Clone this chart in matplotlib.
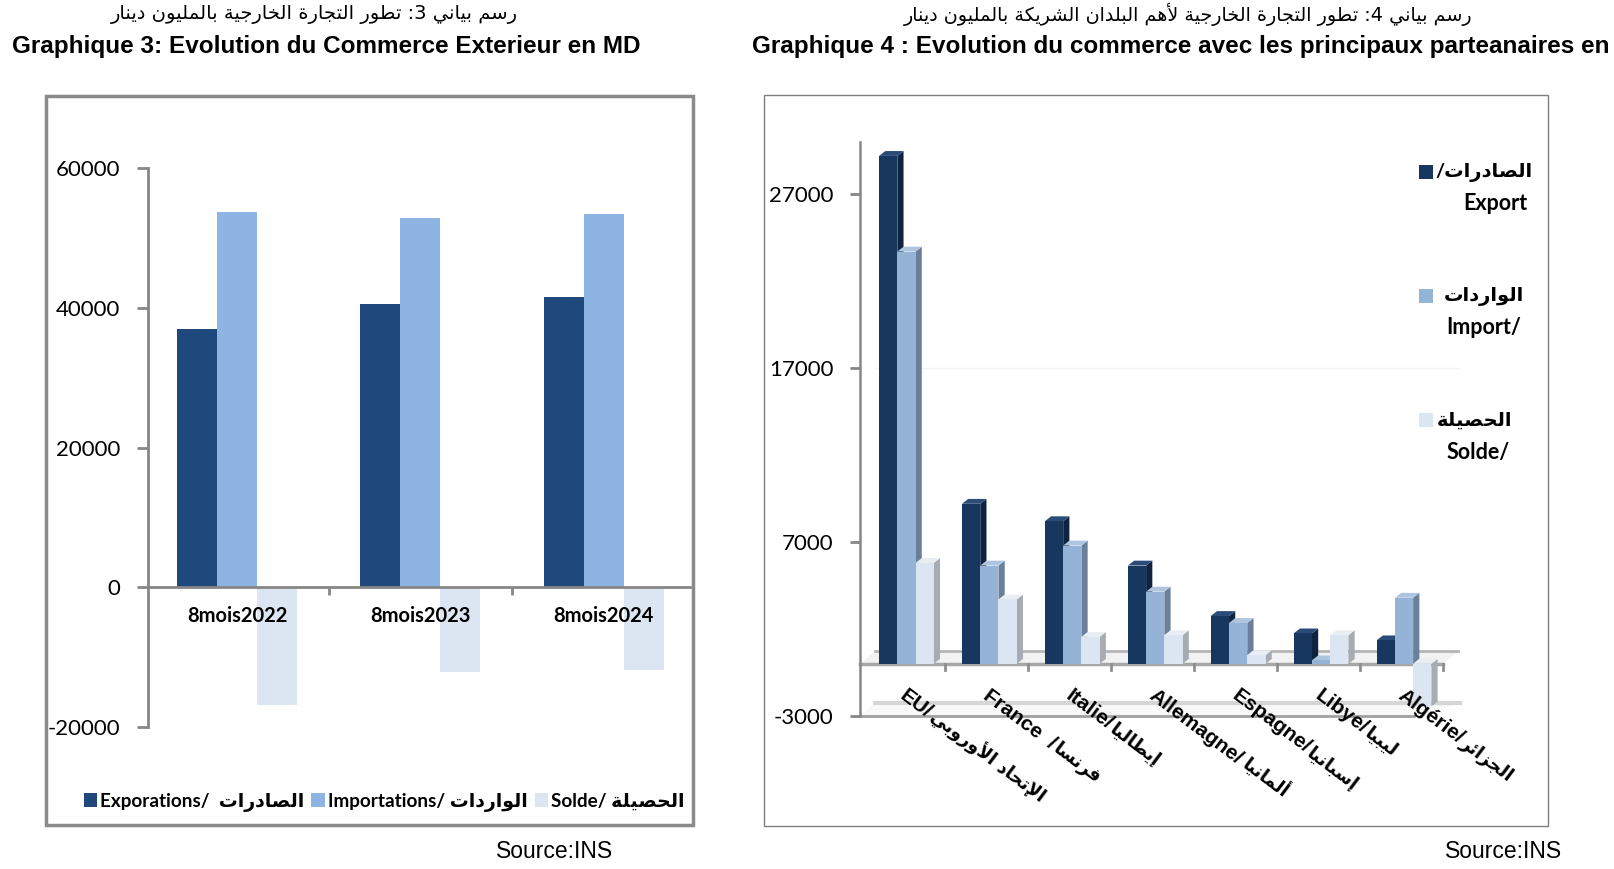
import matplotlib
matplotlib.use("Agg")
import matplotlib.pyplot as plt
import numpy as np
from matplotlib.font_manager import FontProperties
from matplotlib.patches import Polygon, Rectangle
from matplotlib.textpath import TextPath

W, H = 1614, 869

# ---- data (MD) ----
periods = ["8mois2022", "8mois2023", "8mois2024"]
exports_md = [36900, 40600, 41500]
imports_md = [53700, 52800, 53400]
solde_md = [-16800, -12100, -11800]

partners_fr = ["EU/", "France  /", "Italie/", "Allemagne/ ", "Espagne/", "Libye/", "Algérie/"]
partners_ar = ["الإتحاد الأوروبي", "فرنسا", "إيطاليا", "ألمانيا", "إسبانيا", "ليبيا", "الجزائر"]
partner_export = [29200, 9200, 8200, 5650, 2750, 1750, 1350]
partner_import = [23700, 5650, 6800, 4150, 2350, 200, 3800]
partner_solde = [5800, 3700, 1550, 1650, 500, 1650, -2450]


# ---- minimal arabic shaping (matplotlib draws no joined forms, no RTL) ----
def _arabic_forms():
    letters = [chr(c) for c in range(0x0621, 0x063B)] + [chr(c) for c in range(0x0641, 0x064B)]
    counts = [1, 2, 2, 2, 2, 4, 2, 4, 2] + [4] * 5 + [2] * 4 + [4] * 8 + [4] * 7 + [2, 2, 4]
    table, code = {}, 0xFE80
    for ch, n in zip(letters, counts):
        table[ch] = [chr(code + k) for k in range(n)]
        code += n
    return table


FORMS = _arabic_forms()
LAM_ALEF = {"\u0622": 0xFEF5, "\u0623": 0xFEF7, "\u0625": 0xFEF9, "\u0627": 0xFEFB}


def _dual(ch):
    return ch in FORMS and len(FORMS[ch]) == 4


def ar(text):
    out, i, n = [], 0, len(text)
    while i < n:
        ch = text[i]
        if ch not in FORMS:
            out.append(ch)
            i += 1
            continue
        pj = i > 0 and _dual(text[i - 1])
        if ch == "\u0644" and i + 1 < n and text[i + 1] in LAM_ALEF:
            out.append(chr(LAM_ALEF[text[i + 1]] + (1 if pj else 0)))
            i += 2
            continue
        nj = _dual(ch) and i + 1 < n and text[i + 1] in FORMS
        f = FORMS[ch]
        out.append(f[3] if pj and nj else f[1] if pj else f[2] if nj else f[0])
        i += 1
    return "".join(reversed(out))


def px(x, y):
    return x / W, 1 - y / H


LAT = ["Lato", "DejaVu Sans"]
ARIAL = ["Liberation Sans", "DejaVu Sans"]
GRAY = "#868686"

fig = plt.figure(figsize=(W / 100, H / 100), dpi=100)

# panel frames
fig.patches.append(Rectangle(px(46, 825), 647 / W, 729 / H, transform=fig.transFigure,
                             fill=False, ec="#8a8a8a", lw=2.5))
fig.patches.append(Rectangle(px(764, 826), 784 / W, 731 / H, transform=fig.transFigure,
                             fill=False, ec="#7f7f7f", lw=1.0))

# titles
fig.text(*px(314, 14), ar("رسم بياني 3: تطور التجارة الخارجية بالمليون دينار"),
         ha="center", va="center", fontsize=14, family=["DejaVu Sans"])
fig.text(*px(326, 47), "Graphique 3: Evolution du Commerce Exterieur en MD",
         ha="center", va="center", fontsize=17.5, weight="bold", family=ARIAL)
fig.text(*px(1188, 14), ar("رسم بياني 4: تطور التجارة الخارجية لأهم البلدان الشريكة بالمليون دينار"),
         ha="center", va="center", fontsize=13.8, family=["DejaVu Sans"])
fig.text(*px(752, 47), "Graphique 4 : Evolution du commerce avec les principaux parteanaires en",
         ha="left", va="center", fontsize=17.5, weight="bold", family=ARIAL)
fig.text(*px(555, 851), "Source:INS", ha="center", va="center", fontsize=16.5, family=ARIAL)
fig.text(*px(1504, 851), "Source:INS", ha="center", va="center", fontsize=16.5, family=ARIAL)

# ---- Graphique 3 ----
ax = fig.add_axes([148 / W, (H - 727) / H, (690 - 148) / W, (727 - 168) / H])
xs = list(range(len(periods)))
bw = 0.218
c_exp, c_imp, c_sol = "#1F497D", "#8DB4E2", "#DCE6F2"
ax.bar([x - bw for x in xs], exports_md, bw, color=c_exp, label="Exporations/  " + ar("الصادرات"))
ax.bar(xs, imports_md, bw, color=c_imp, label="Importations/ " + ar("الواردات"))
ax.bar([x + bw for x in xs], solde_md, bw, color=c_sol, label="Solde/ " + ar("الحصيلة"))
ax.set_xlim(-0.485, 2.47)
ax.set_ylim(-20000, 60000)
ax.set_yticks([-20000, 0, 20000, 40000, 60000])
ax.set_yticklabels(["-20000", "0", "20000", "40000", "60000"], family=LAT, fontsize=16)
for s in ("top", "right"):
    ax.spines[s].set_visible(False)
ax.spines["left"].set_color(GRAY)
ax.spines["left"].set_linewidth(2)
ax.spines["bottom"].set_position(("data", 0))
ax.spines["bottom"].set_color(GRAY)
ax.spines["bottom"].set_linewidth(2)
ax.set_xticks([0.5, 1.5])
ax.set_xticklabels([])
ax.tick_params(axis="y", length=8, width=2, color=GRAY, pad=12)
ax.tick_params(axis="x", length=6, width=2, color=GRAY)
for x, lab in zip(xs, periods):
    ax.annotate(lab, (x, 0), xytext=(0, -21), textcoords="offset points", ha="center",
                va="center", fontsize=14.5, weight="bold", family=LAT)
leg = ax.legend(loc="center", bbox_to_anchor=px(384, 802), bbox_transform=fig.transFigure,
                ncol=3, frameon=False, handlelength=0.7, handleheight=0.7, handletextpad=0.15,
                columnspacing=0.4, prop=FontProperties(family=LAT, weight="bold", size=13.6))

# ---- Graphique 4 (pseudo 3D columns) ----
bx = fig.add_axes([860 / W, (H - 716) / H, (1443 - 860) / W, (716 - 142) / H])
x0, x1 = -0.53, 6.5
bx.set_xlim(x0, x1)
bx.set_ylim(-3000, 30000)
bx.set_yticks([-3000, 7000, 17000, 27000])
bx.set_yticklabels(["-3000", "7000", "17000", "27000"], family=LAT, fontsize=16)
bx.set_xticks([])
for s in ("top", "right", "bottom"):
    bx.spines[s].set_visible(False)
bx.spines["left"].set_color(GRAY)
bx.spines["left"].set_linewidth(1.8)
bx.tick_params(axis="y", length=7, width=2, color=GRAY, pad=12)

ddx, ddy = 0.18, 720
# faint back-wall gridline and floor at the axis minimum
bx.plot([x0 + ddx, x1 + ddx], [17000, 17000], color="#f3f3f3", lw=1, zorder=0, clip_on=False)
bx.add_patch(Polygon([(x0, -3000), (x1 - 0.35, -3000), (x1 + 0.2, -3000 + ddy),
                      (x0 + ddx, -3000 + ddy)], closed=True, fc="#f8f8f8", ec="none",
                     zorder=0, clip_on=False))
bx.plot([x0 + ddx, x1 + 0.2], [-3000 + ddy, -3000 + ddy], color="#d6d6d6", lw=3, zorder=0,
        clip_on=False)
bx.plot([x0, x1 - 0.35], [-3000, -3000], color="#a0a0a0", lw=2, zorder=0, clip_on=False)
# category plane at zero
bx.add_patch(Polygon([(x0, 0), (x1, 0), (x1 + ddx, ddy), (x0 + ddx, ddy)], closed=True,
                     fc="#f2f2f2", ec="none", zorder=0, clip_on=False))
bx.plot([x0 + ddx, x1 + ddx], [ddy, ddy], color="#b5b5b5", lw=2, zorder=0, clip_on=False)
bx.plot([x0, x1], [0, 0], color="#a6a6a6", lw=2.5, zorder=0, clip_on=False)
for k in range(len(partners_fr)):
    bx.plot([k + 0.5, k + 0.5], [0, -330], color="#8f8f8f", lw=2, zorder=0, clip_on=False)

w4, bdx, bdy = 0.22, 0.075, 280
series4 = [
    (partner_export, "#17375E", "#0E2340", "#2B4C78"),
    (partner_import, "#95B3D7", "#6A7F99", "#AFC5DF"),
    (partner_solde, "#DCE6F2", "#A7ACB3", "#E9EEF5"),
]
for k in range(len(partners_fr)):
    for j, (vals, front, side, top) in enumerate(series4):
        x = k + 0.03 + (j - 1.5) * w4
        v = vals[k]
        vt = max(v, 0)
        bx.add_patch(Polygon([(x + w4, min(v, 0)), (x + w4 + bdx, min(v, 0) + bdy),
                              (x + w4 + bdx, vt + bdy), (x + w4, vt)], closed=True,
                             fc=side, ec="none", zorder=2, clip_on=False))
        bx.add_patch(Polygon([(x, vt), (x + bdx, vt + bdy), (x + w4 + bdx, vt + bdy),
                              (x + w4, vt)], closed=True, fc=top, ec="none", zorder=2,
                             clip_on=False))
        bx.bar(x, v, w4, align="edge", color=front, zorder=2)

# rotated category labels: bold latin part, then the (smaller) arabic part on the same line
ang = 37
ca, sa = np.cos(np.radians(ang)), np.sin(np.radians(ang))
fp_lat = FontProperties(family=ARIAL, weight="bold", size=15)
base = (-11 * sa, -11 * ca)  # from the top-left anchor down to the baseline, in points
for k, (fr, arab) in enumerate(zip(partners_fr, partners_ar)):
    lat = fr.rstrip()
    adv = TextPath((0, 0), lat, prop=fp_lat).get_extents().x1 + (4 if fr.endswith(" ") else 1.5)
    bx.annotate(lat, (k + 0.05, -1250), xytext=base, textcoords="offset points",
                rotation=-ang, rotation_mode="anchor", ha="left", va="baseline",
                fontproperties=fp_lat, zorder=3, annotation_clip=False)
    bx.annotate(ar(arab), (k + 0.05, -1250),
                xytext=(base[0] + adv * ca, base[1] - adv * sa), textcoords="offset points",
                rotation=-ang, rotation_mode="anchor", ha="left", va="baseline",
                fontsize=13, weight="bold", family=["DejaVu Sans"], zorder=3,
                annotation_clip=False)

# legend of Graphique 4: (colour, arabic line, latin line, marker y, line centres x)
leg4 = [
    ("#17375E", "/" + ar("الصادرات"), "Export", 172, 1484, 1495),
    ("#95B3D7", ar("الواردات"), "Import/", 296, 1484, 1484),
    ("#DCE6F2", ar("الحصيلة"), "Solde/", 420, 1475, 1478),
]
for col, l1, l2, yc, c1, c2 in leg4:
    fig.patches.append(Rectangle(px(1419, yc + 7), 14 / W, 14 / H, transform=fig.transFigure,
                                 fc=col, ec="none"))
    fig.text(*px(c1, yc), l1, ha="center", va="center", fontsize=14, weight="bold",
             family=LAT)
    fig.text(*px(c2, yc + 32), l2, ha="center", va="center", fontsize=15.5, weight="bold",
             family=LAT)

fig.savefig("out.png", dpi=100)
